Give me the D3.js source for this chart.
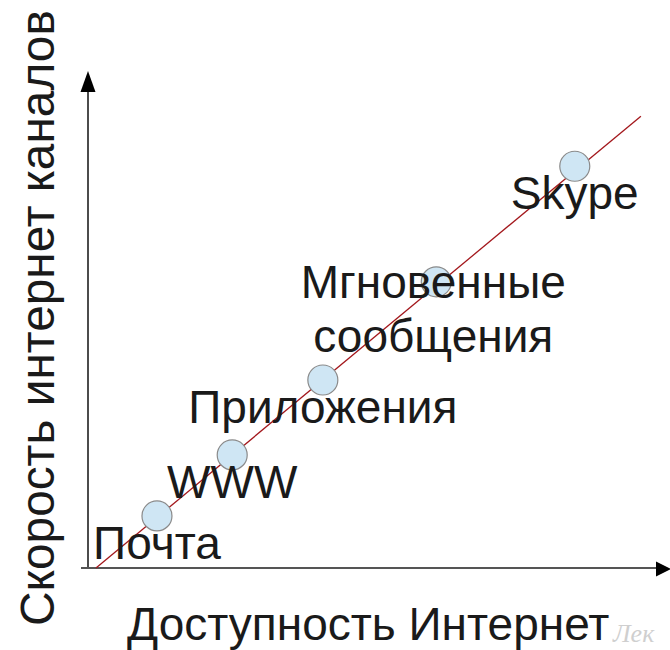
<!DOCTYPE html>
<meta charset="utf-8">
<head>
  <title>Скорость и доступность</title>
</head>
<style>
body { margin: 0; background: #fff; }
.label {
  font-family: "Liberation Sans", Arial, sans-serif;
  font-size: 46px;
  fill: #1a1a1a;
}
.dot {
  fill: #cfe6f4;
  stroke: #8a8a8a;
  stroke-width: 1.2px;
}
.trend {
  stroke: #a3171c;
  stroke-width: 1.3px;
}
</style>
<body>
  <svg width="670" height="650"></svg>
  <script src="https://cdnjs.cloudflare.com/ajax/libs/d3/7.8.5/d3.min.js"></script>
  <script>
// data (0..100 on both axes)
var services = ["Почта", "WWW", "Приложения", "Мгновенные\nсообщения", "Skype"];
var access   = [12.1, 25.3, 41.2, 61.1, 85.4];
var speed    = [10.5, 22.8, 37.9, 57.7, 81.0];
var trendX   = [1.4, 97.0];
var trendY   = [0, 91.1];

var xTitle = "Доступность Интернет";
var yTitle = "Скорость интернет каналов";

var svg = d3.select("svg");

var x = d3.scaleLinear().domain([0, 100]).range([88, 658]);
var y = d3.scaleLinear().domain([0, 100]).range([568, 72]);

// axes: plain lines with filled arrow heads, no ticks
svg.append("line")
  .attr("x1", x(0)).attr("y1", y(0) + 1)
  .attr("x2", x(0)).attr("y2", y(100) + 18)
  .attr("stroke", "#111").attr("stroke-width", 1.5);
svg.append("path")
  .attr("d", "M" + x(0) + "," + (y(100) - 1) + "l-7.5,21h15z")
  .attr("fill", "#000");

svg.append("line")
  .attr("x1", x(0) - 7).attr("y1", y(0))
  .attr("x2", 660).attr("y2", y(0))
  .attr("stroke", "#555").attr("stroke-width", 1.8);
svg.append("path")
  .attr("d", "M671," + (y(0) + 1) + "l-15,-7.5v15z")
  .attr("fill", "#000");

// trend line
svg.append("line")
  .classed("trend", true)
  .attr("x1", x(trendX[0])).attr("y1", y(trendY[0]))
  .attr("x2", x(trendX[1])).attr("y2", y(trendY[1]));

var pts = services.map(function(s, i) {
  return {name: s, ax: access[i], sp: speed[i]};
});

svg.append("g").selectAll("circle.dot")
  .data(pts)
  .enter()
  .append("circle")
  .classed("dot", true)
  .attr("cx", function(d) {return x(d.ax);})
  .attr("cy", function(d) {return y(d.sp);})
  .attr("r", 15);

// labels centred under each point; the two-line one sits higher
var labels = svg.append("g").selectAll("text")
  .data(pts)
  .enter()
  .append("text")
  .classed("label", true)
  .attr("text-anchor", "middle")
  .attr("x", function(d) {return x(d.ax) - (d.name.indexOf("\n") > 0 ? 3 : 0);})
  .attr("y", function(d) {return y(d.sp) + (d.name.indexOf("\n") > 0 ? 16 : 43);});

labels.selectAll("tspan")
  .data(function(d) {return d.name.split("\n");})
  .enter()
  .append("tspan")
  .attr("x", function() {return d3.select(this.parentNode).attr("x");})
  .attr("dy", function(d, i) {return i ? 54 : 0;})
  .text(function(d) {return d;});

// axis titles
svg.append("text")
  .classed("label", true)
  .attr("x", 127).attr("y", 640)
  .text(xTitle);

svg.append("text")
  .classed("label", true)
  .style("font-size", "47.8px")
  .attr("transform", "translate(54,626) rotate(-90)")
  .text(yTitle);

// faint watermark in the corner
svg.append("text")
  .attr("x", 613).attr("y", 642)
  .attr("font-family", "Liberation Serif, serif")
  .attr("font-style", "italic")
  .attr("font-size", 26)
  .attr("fill", "#c4c4c4")
  .attr("opacity", 0.8)
  .text("Лек");
  </script>
</body>
